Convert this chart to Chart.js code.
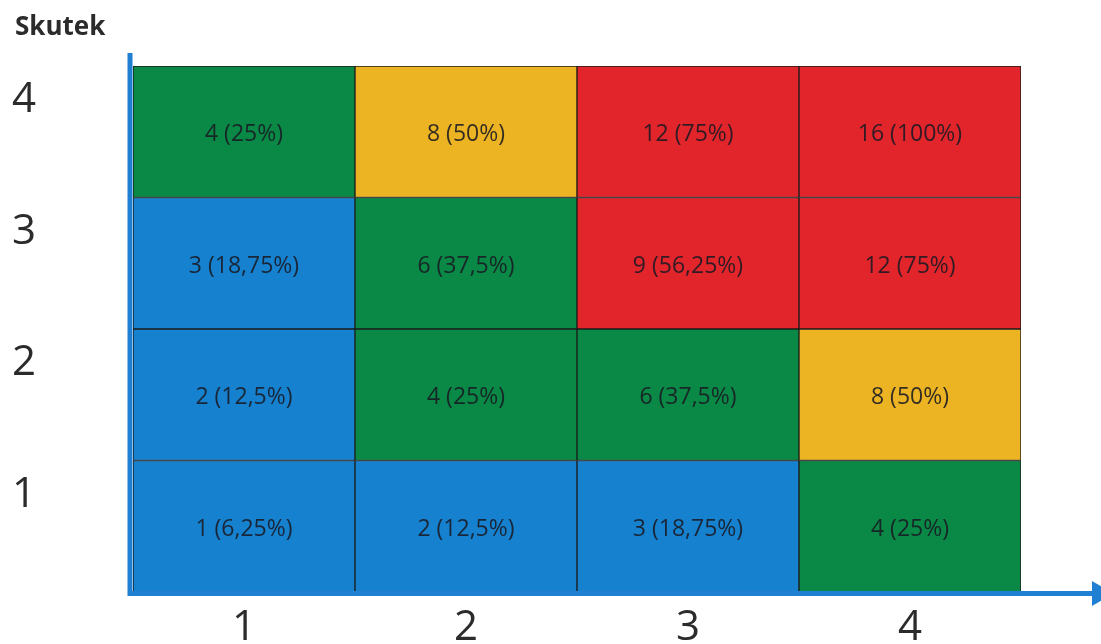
<!DOCTYPE html>
<html>
<head>
<meta charset="utf-8">
<script src="https://cdn.jsdelivr.net/npm/chart.js@4"></script>
<style>
  html, body { margin: 0; padding: 0; background: #ffffff; }
  #wrap { width: 1101px; height: 644px; }
</style>
</head>
<body>
<div id="wrap"><canvas id="matrix" width="1101" height="644"></canvas></div>
<script>
// Probability (x) and impact (y) levels of the risk matrix
const probabilityLabels = ['1', '2', '3', '4'];
const impactLabels = ['1', '2', '3', '4'];
const impactTitle = 'Skutek';

// Risk score for each cell, one row per impact level (impact 1 first)
const scoreRows = [
  [1, 2, 3, 4],
  [2, 4, 6, 8],
  [3, 6, 9, 12],
  [4, 8, 12, 16]
];
const percentRows = [
  ['6,25%', '12,5%', '18,75%', '25%'],
  ['12,5%', '25%', '37,5%', '50%'],
  ['18,75%', '37,5%', '56,25%', '75%'],
  ['25%', '50%', '75%', '100%']
];
// Risk class of each cell
const classRows = [
  ['low', 'low', 'low', 'moderate'],
  ['low', 'moderate', 'moderate', 'high'],
  ['low', 'moderate', 'critical', 'critical'],
  ['moderate', 'high', 'critical', 'critical']
];
const classColors = {
  low: '#1682cf',
  moderate: '#0a8845',
  high: '#ecb422',
  critical: '#e2252b'
};
const axisBlue = '#1f7fd2';

const datasets = impactLabels.map((lab, r) => {
  const level = Number(lab);
  return {
    label: impactTitle + ' ' + lab,
    data: probabilityLabels.map(() => [level - 1, level]),
    backgroundColor: classRows[r].map(c => classColors[c]),
    borderColor: '#1c1c1c',
    borderWidth: 1,
    borderSkipped: false,
    grouped: false,
    barPercentage: 1,
    categoryPercentage: 1
  };
});

// Writes "score (percent)" inside each cell
const cellLabels = {
  id: 'cellLabels',
  afterDatasetsDraw(chart) {
    const ctx = chart.ctx;
    ctx.save();
    ctx.font = '23px "Open Sans"';
    ctx.fillStyle = 'rgba(25,25,35,0.88)';
    ctx.textAlign = 'center';
    ctx.textBaseline = 'middle';
    chart.data.datasets.forEach((ds, r) => {
      chart.getDatasetMeta(r).data.forEach((bar, c) => {
        const y = (bar.y + bar.base) / 2 + 3;
        ctx.fillText(scoreRows[r][c] + ' (' + percentRows[r][c] + ')', bar.x, y);
      });
    });
    ctx.restore();
  }
};

// Blue axis lines with the arrow head on the horizontal axis, and the axis name
const axisArrows = {
  id: 'axisArrows',
  afterDatasetsDraw(chart) {
    const a = chart.chartArea;
    const ctx = chart.ctx;
    ctx.save();
    ctx.strokeStyle = axisBlue;
    ctx.fillStyle = axisBlue;
    ctx.lineWidth = 5;
    ctx.beginPath();
    ctx.moveTo(a.left - 3, a.top - 13);
    ctx.lineTo(a.left - 3, a.bottom + 4);
    ctx.stroke();
    ctx.beginPath();
    ctx.moveTo(a.left - 5, a.bottom + 1.5);
    ctx.lineTo(a.right + 72, a.bottom + 1.5);
    ctx.stroke();
    ctx.beginPath();
    ctx.moveTo(a.right + 71, a.bottom - 11);
    ctx.lineTo(a.right + 71, a.bottom + 14);
    ctx.lineTo(a.right + 92, a.bottom + 1.5);
    ctx.closePath();
    ctx.fill();

    ctx.fillStyle = '#2b2b2b';
    ctx.font = 'bold 26px "Open Sans"';
    ctx.textAlign = 'left';
    ctx.textBaseline = 'middle';
    ctx.fillText(impactTitle, 15, a.top - 38);
    ctx.restore();
  }
};

new Chart(document.getElementById('matrix'), {
  type: 'bar',
  data: { labels: probabilityLabels, datasets: datasets },
  options: {
    responsive: false,
    animation: false,
    layout: { padding: { left: 12, right: 80, top: 66, bottom: 0 } },
    plugins: {
      legend: { display: false },
      tooltip: { enabled: false },
      title: { display: false }
    },
    scales: {
      x: {
        type: 'category',
        grid: { display: false },
        border: { display: false },
        ticks: {
          color: '#2b2b2b',
          font: { family: '"Open Sans"', size: 42 },
          padding: 3
        },
        afterFit(scale) { scale.height = 52; }
      },
      y: {
        type: 'linear',
        min: 0,
        max: 4,
        grid: { display: false },
        border: { display: false },
        afterBuildTicks(scale) {
          scale.ticks = impactLabels.map(l => ({ value: Number(l) - 0.26 }));
        },
        ticks: {
          color: '#2b2b2b',
          crossAlign: 'far',
          font: { family: '"Open Sans"', size: 42 },
          callback: (value, index) => impactLabels[index]
        },
        afterFit(scale) { scale.width = 121; }
      }
    }
  },
  plugins: [cellLabels, axisArrows]
});
</script>
</body>
</html>
